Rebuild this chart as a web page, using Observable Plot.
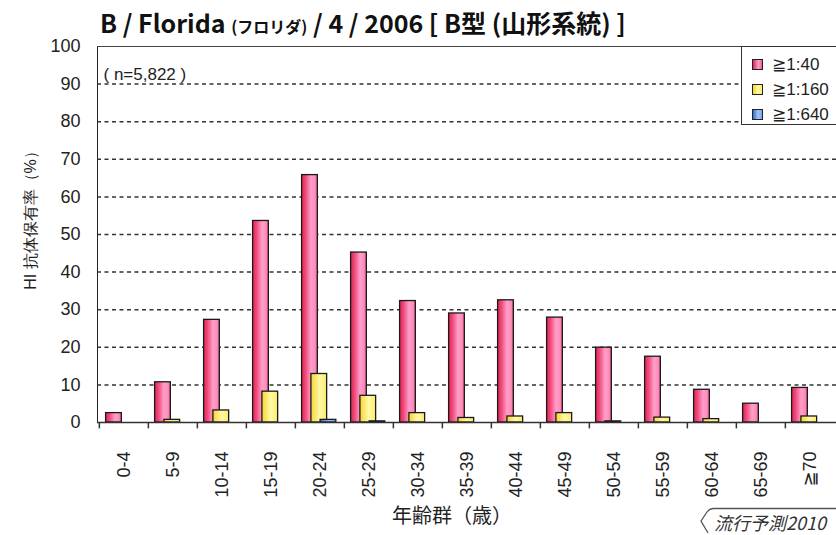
<!DOCTYPE html>
<html>
<head>
<meta charset="utf-8">
<script src="https://cdn.jsdelivr.net/npm/d3@7"></script>
<script src="https://cdn.jsdelivr.net/npm/@observablehq/plot@0.6"></script>
<style>
  html, body { margin: 0; padding: 0; background: #fff; overflow: hidden; }
  #wrap { position: relative; width: 836px; height: 535px; overflow: hidden; font-family: "Liberation Sans", "DejaVu Sans", sans-serif; }
  #title { position: absolute; left: 100px; top: 7px; line-height: 30px; font-family: "Noto Sans CJK JP", "Noto Sans", sans-serif; font-weight: bold; font-size: 25px; color: #111; white-space: nowrap; letter-spacing: 0px; }
  #title .small { font-size: 16px; }
  #legend { position: absolute; left: 741px; top: 46px; width: 110px; height: 79px; border: 1px solid #333; background: #fff; box-sizing: border-box; }
  .li { position: absolute; left: 10px; height: 20px; display: flex; align-items: center; font-size: 17px; color: #222; white-space: nowrap; }
  .sw { width: 9px; height: 9px; border: 1px solid #222; margin-right: 9px; }
  #caption { position: absolute; left: 714px; top: 512px; font-family: "Noto Sans CJK JP", sans-serif; font-style: italic; font-size: 18px; color: #333; white-space: nowrap; line-height: 20px; }
  #tab { position: absolute; left: 0; top: 0; pointer-events: none; }
</style>
</head>
<body>
<div id="wrap"></div>
<script>
// ---- data ----
const categories = ["0-4","5-9","10-14","15-19","20-24","25-29","30-34","35-39","40-44","45-49","50-54","55-59","60-64","65-69","≧70"];
const series40  = [2.5, 10.7, 27.3, 53.6, 65.8, 45.2, 32.3, 29.0, 32.5, 27.9, 19.9, 17.5, 8.7, 5.0, 9.2];
const series160 = [0, 0.7, 3.2, 8.2, 12.9, 7.1, 2.5, 1.2, 1.6, 2.5, 0.3, 1.3, 0.9, 0, 1.6];
const series640 = [0, 0, 0, 0, 0.7, 0.3, 0, 0, 0, 0, 0, 0, 0, 0, 0];
const seriesNames = ["≧1:40", "≧1:160", "≧1:640"];
const yTicks = [0, 10, 20, 30, 40, 50, 60, 70, 80, 90, 100];
const gridTicks = [10, 20, 30, 40, 50, 60, 70, 80, 90];
const titleParts = ["B / Florida ", "(フロリダ)", " / 4 / 2006 [ B型 (山形系統) ]"];
const nLabel = "( n=5,822 )";
const yLabel = "HI 抗体保有率（%）";
const xLabel = "年齢群（歳）";
const captionText = "流行予測2010";

// ---- layout ----
const W = 836, H = 535, mL = 97, mR = 0, mT = 46, mB = 113;
const bw = (W - mL - mR) / categories.length;
const barW = 16;

const toRows = (vals) => categories.map((c, i) => ({cat: c, v: vals[i]})).filter(d => d.v > 0);
const rows40 = toRows(series40), rows160 = toRows(series160), rows640 = toRows(series640);

const barOpts = (off) => ({x: "cat", y: "v", stroke: "#1a1a1a", strokeWidth: 1.3, insetLeft: off, insetRight: bw - off - barW});

const chart = Plot.plot({
  width: W, height: H,
  marginLeft: mL, marginRight: mR, marginTop: mT, marginBottom: mB,
  style: {fontFamily: "Liberation Sans, DejaVu Sans, sans-serif", fontSize: "18px", color: "#222", background: "#fff"},
  x: {domain: categories, padding: 0, tickSize: 0, tickPadding: 29, tickRotate: -90, label: null},
  y: {domain: [0, 100], ticks: yTicks, tickSize: 0, tickPadding: 17, label: null, line: true},
  marks: [
    Plot.ruleY(gridTicks, {stroke: "#333", strokeWidth: 1.5, strokeDasharray: "4,3.5"}),
    Plot.ruleY([100], {stroke: "#444", strokeWidth: 1.2}),
    Plot.ruleX(categories, {x: d => d, dx: -bw / 2, y1: 0, y2: -1.7, stroke: "#333", strokeWidth: 1.5}),
    Plot.barY(rows40, {...barOpts(6.6), fill: "url(#gRed)"}),
    Plot.barY(rows160, {...barOpts(15.9), fill: "url(#gYel)"}),
    Plot.barY(rows640, {...barOpts(25.1), fill: "url(#gBlu)"}),
    Plot.ruleY([0], {stroke: "#333", strokeWidth: 1.5}),
    Plot.text([nLabel], {frameAnchor: "top-left", dx: 6, dy: 21, textAnchor: "start", fontSize: 17, fill: "#222"}),
    Plot.text([yLabel], {frameAnchor: "left", dx: -67, dy: -18, rotate: -90, textAnchor: "middle", fontSize: 16, fill: "#222"}),
    Plot.text([xLabel], {frameAnchor: "bottom", dx: -15, dy: 100, textAnchor: "middle", fontSize: 20, fill: "#222", fontFamily: "Noto Sans CJK JP, sans-serif"})
  ]
});

chart.insertAdjacentHTML("afterbegin", `
<defs>
  <linearGradient id="gRed" x1="0" x2="1" y1="0" y2="0">
    <stop offset="0" stop-color="#e02452"/><stop offset="0.25" stop-color="#f04a7a"/>
    <stop offset="0.6" stop-color="#ff9fca"/><stop offset="0.85" stop-color="#ff8cbc"/>
    <stop offset="1" stop-color="#f0608e"/>
  </linearGradient>
  <linearGradient id="gYel" x1="0" x2="1" y1="0" y2="0">
    <stop offset="0" stop-color="#f6d430"/><stop offset="0.55" stop-color="#fff9a8"/>
    <stop offset="1" stop-color="#ffec68"/>
  </linearGradient>
  <linearGradient id="gBlu" x1="0" x2="1" y1="0" y2="0">
    <stop offset="0" stop-color="#3568c8"/><stop offset="0.55" stop-color="#9cc4f8"/>
    <stop offset="1" stop-color="#78a8ec"/>
  </linearGradient>
</defs>`);

const wrap = document.getElementById("wrap");
wrap.appendChild(chart);

// title
const title = document.createElement("div");
title.id = "title";
titleParts.forEach((t, i) => {
  const s = document.createElement("span");
  s.textContent = t;
  if (i === 1) s.className = "small";
  title.appendChild(s);
});
wrap.appendChild(title);

// legend
const legend = document.createElement("div");
legend.id = "legend";
const swatchCss = [
  "linear-gradient(to right,#e02452,#ff9fca 60%,#f0608e)",
  "linear-gradient(to right,#f6d430,#fff9a8 55%,#ffec68)",
  "linear-gradient(to right,#3568c8,#9cc4f8 55%,#78a8ec)"
];
seriesNames.forEach((n, i) => {
  const li = document.createElement("div");
  li.className = "li";
  li.style.top = (7 + i * 25) + "px";
  const sw = document.createElement("div");
  sw.className = "sw";
  sw.style.background = swatchCss[i];
  const tx = document.createElement("span");
  tx.textContent = n;
  li.appendChild(sw); li.appendChild(tx);
  legend.appendChild(li);
});
wrap.appendChild(legend);

// caption with tab outline
const ns = "http://www.w3.org/2000/svg";
const tab = document.createElementNS(ns, "svg");
tab.setAttribute("id", "tab");
tab.setAttribute("width", W); tab.setAttribute("height", H);
const p = document.createElementNS(ns, "path");
p.setAttribute("d", "M836,508.5 L713,508.5 Q709,509 707,512 L701,521 L708,533");
p.setAttribute("fill", "none"); p.setAttribute("stroke", "#555"); p.setAttribute("stroke-width", "1.3");
tab.appendChild(p);
wrap.appendChild(tab);
const cap = document.createElement("div");
cap.id = "caption";
cap.textContent = captionText;
wrap.appendChild(cap);
</script>
</body>
</html>
